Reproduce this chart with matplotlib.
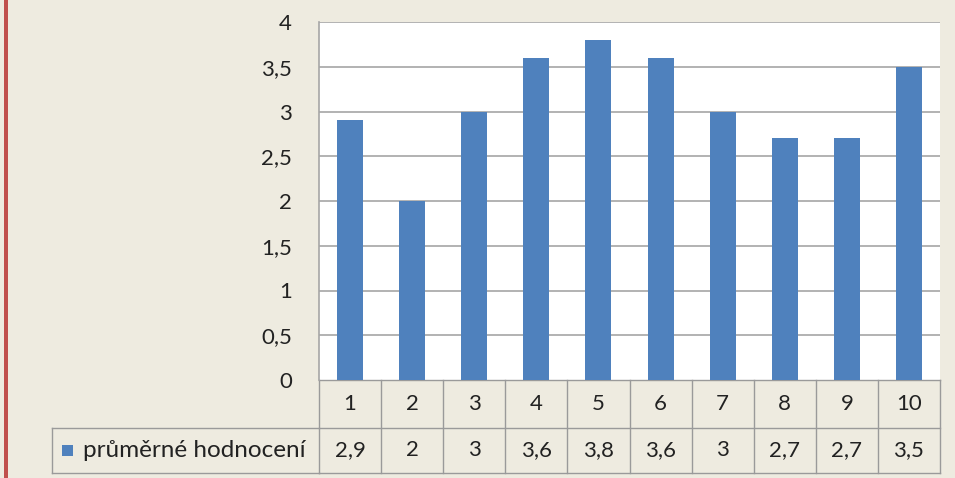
import matplotlib
matplotlib.use("Agg")
import matplotlib.pyplot as plt
from matplotlib.patches import Rectangle
from matplotlib.lines import Line2D
import matplotlib.transforms as mtrans

categories = ["1", "2", "3", "4", "5", "6", "7", "8", "9", "10"]
values = [2.9, 2.0, 3.0, 3.6, 3.8, 3.6, 3.0, 2.7, 2.7, 3.5]
value_labels = ["2,9", "2", "3", "3,6", "3,8", "3,6", "3", "2,7", "2,7", "3,5"]
series_name = "průměrné hodnocení"
yticks = [0, 0.5, 1, 1.5, 2, 2.5, 3, 3.5, 4]
ytick_labels = ["0", "0,5", "1", "1,5", "2", "2,5", "3", "3,5", "4"]

BG = "#EEEBE0"
BAR = "#4F81BD"
GRID = "#A6A6A6"
LINE = "#9A9A9A"
TXT = "#222222"
FS = 16
plt.rcParams['font.family'] = ['Lato', 'DejaVu Sans']

W, H = 955, 478
fig = plt.figure(figsize=(W / 100, H / 100), dpi=100, facecolor=BG)

left, right, top, bottom = 319, 940, 22, 380
ax = fig.add_axes([left / W, 1 - bottom / H, (right - left) / W, (bottom - top) / H])
ax.set_facecolor("white")
x = list(range(len(categories)))
ax.bar(x, values, width=0.42, color=BAR, zorder=3)
ax.set_xlim(-0.5, len(categories) - 0.5)
ax.set_ylim(0, 4)
ax.set_yticks(yticks)
ax.set_yticklabels(ytick_labels, fontsize=FS, color=TXT)
ax.tick_params(axis='y', length=0, pad=19.5)
ax.tick_params(axis='x', length=0, labelbottom=False)
for yv in yticks[1:]:
    ax.axhline(yv, color=GRID, lw=1.2, zorder=1)
for s in ["top", "right", "bottom"]:
    ax.spines[s].set_visible(False)
ax.spines["left"].set_color(GRID)
ax.spines["left"].set_linewidth(1.2)

# data table
trans = mtrans.blended_transform_factory(ax.transData, ax.transAxes)
ah = bottom - top
r1 = -(428 - bottom) / ah
r2 = -(473 - bottom) / ah
n = len(categories)
lw = 1.0
ax.add_line(Line2D([-0.5, n - 0.5], [r1, r1], transform=trans, color=LINE, lw=lw, clip_on=False))
ax.add_line(Line2D([-0.5, n - 0.5], [r2, r2], transform=trans, color=LINE, lw=lw, clip_on=False))
ax.add_line(Line2D([-0.5, n - 0.5], [0, 0], transform=trans, color=LINE, lw=lw, clip_on=False))
for i in range(n + 1):
    ax.add_line(Line2D([i - 0.5, i - 0.5], [0, r2], transform=trans, color=LINE, lw=lw, clip_on=False))
for i, (c, v) in enumerate(zip(categories, value_labels)):
    ax.text(i, r1 / 2, c, transform=trans, ha="center", va="center", fontsize=FS, color=TXT)
    ax.text(i, (r1 + r2) / 2, v, transform=trans, ha="center", va="center", fontsize=FS, color=TXT)

# legend cell
fx0 = 52 / W
fy1 = 1 - 428 / H
fy2 = 1 - 473 / H
fx1 = left / W
fig.add_artist(Line2D([fx0, fx1], [fy1, fy1], color=LINE, lw=lw))
fig.add_artist(Line2D([fx0, fx1], [fy2, fy2], color=LINE, lw=lw))
fig.add_artist(Line2D([fx0, fx0], [fy1, fy2], color=LINE, lw=lw))
fig.add_artist(Rectangle((62 / W, 1 - 456 / H), 11 / W, 11 / H, facecolor=BAR, edgecolor="none"))
fig.text(83 / W, (fy1 + fy2) / 2, series_name, ha="left", va="center", fontsize=17.5, color=TXT)

# red left border
fig.add_artist(Rectangle((4 / W, 0), 4 / W, 1, facecolor="#C0504D", edgecolor="none"))

fig.savefig("out.png", dpi=100, facecolor=BG)
